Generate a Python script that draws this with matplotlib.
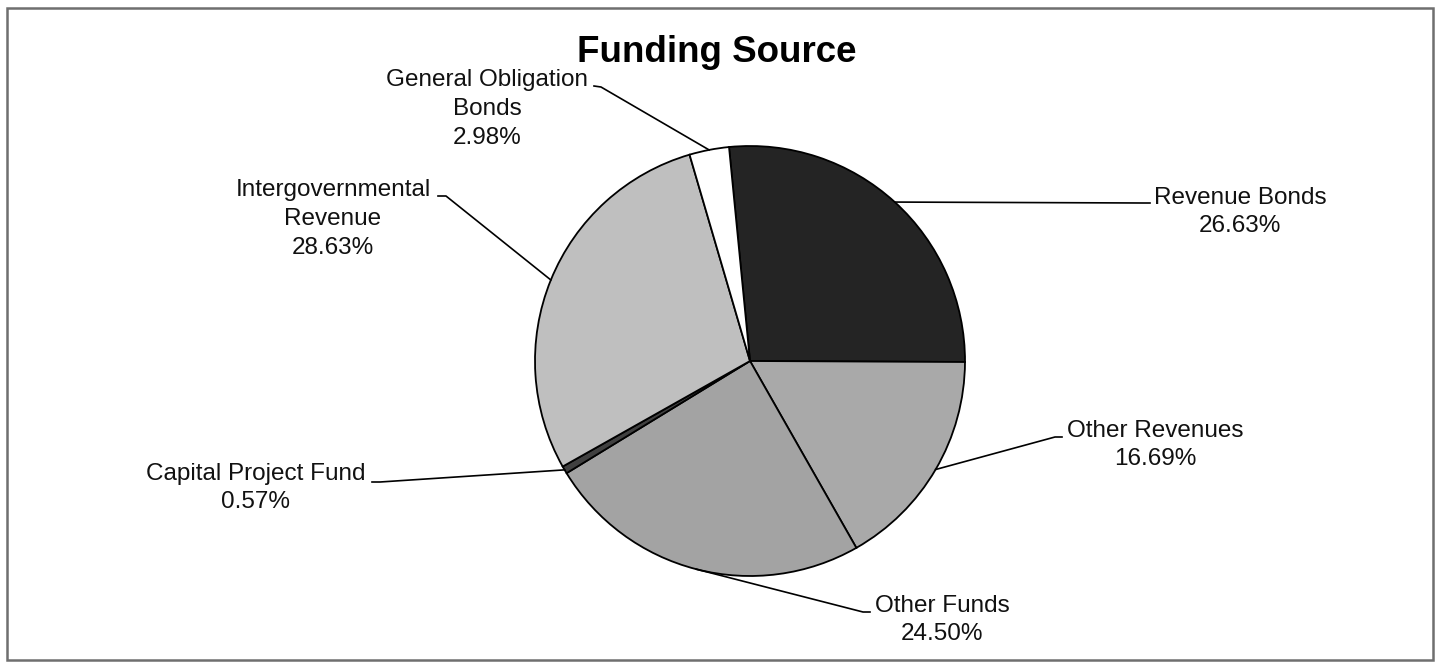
import numpy as np
import matplotlib
matplotlib.use('Agg')
from matplotlib import pyplot as plt
from matplotlib.patches import Rectangle
from matplotlib.lines import Line2D

# 数据
labels = ['Revenue Bonds', 'Other Revenues', 'Other Funds', 'Capital Project Fund',
          'Intergovernmental\nRevenue', 'General Obligation\nBonds']
shares = [26.63, 16.69, 24.50, 0.57, 28.63, 2.98]
colors = ['#242424', '#a9a9a9', '#a3a3a3', '#404040', '#bfbfbf', '#ffffff']

# 标签位置 (图片像素, y 向下): 文本中心, 引线末端, 拐点
text_pos = [(1240, 212), (1155, 445), (942, 620), (256, 488), (333, 219), (487, 109)]
tick_end = [(1150, 203), (1062, 437), (870, 612), (372, 482), (438, 196), (594, 86)]
elbow = [(1143, 203), (1055, 437), (863, 612), (380, 482), (446, 196), (601, 87)]

W, H = 1442, 669
plt.rcParams['font.family'] = ['Liberation Sans', 'DejaVu Sans']

fig = plt.figure(figsize=(W / 100, H / 100), dpi=100)

# 外框
fig.add_artist(Rectangle((7 / W, 1 - 660 / H), 1426 / W, 652 / H, transform=fig.transFigure,
                         fill=False, edgecolor='#6f6f6f', linewidth=1.8))

# 饼图
cx, cy, r = 750, 361, 215
ax = fig.add_axes([(cx - r) / W, (H - cy - r) / H, 2 * r / W, 2 * r / H])
wedges, _ = ax.pie(shares, colors=colors, startangle=95.6, counterclock=False,
                   wedgeprops=dict(edgecolor='black', linewidth=1.3))
ax.set_xlim(-1, 1)
ax.set_ylim(-1, 1)
ax.set_aspect('auto')
ax.axis('off')


def fig_frac(p):
    return p[0] / W, 1 - p[1] / H


to_fig = ax.transData + fig.transFigure.inverted()

for w, lab, val, tp, te, el in zip(wedges, labels, shares, text_pos, tick_end, elbow):
    mid = np.deg2rad((w.theta1 + w.theta2) / 2)
    edge = to_fig.transform((np.cos(mid), np.sin(mid)))
    e = fig_frac(el)
    t = fig_frac(te)
    fig.add_artist(Line2D([edge[0], e[0], t[0]], [edge[1], e[1], t[1]],
                          transform=fig.transFigure, color='black', linewidth=1.2))
    fx, fy = fig_frac(tp)
    fig.text(fx, fy, lab + '\n' + '%.2f%%' % val, ha='center', va='center',
             fontsize=17.5, color='#111111', linespacing=1.4)

fx, fy = fig_frac((717, 52))
fig.text(fx, fy, 'Funding Source', ha='center', va='center', fontsize=26.5,
         fontweight='bold', color='black')

plt.savefig('out.png', dpi=100)
